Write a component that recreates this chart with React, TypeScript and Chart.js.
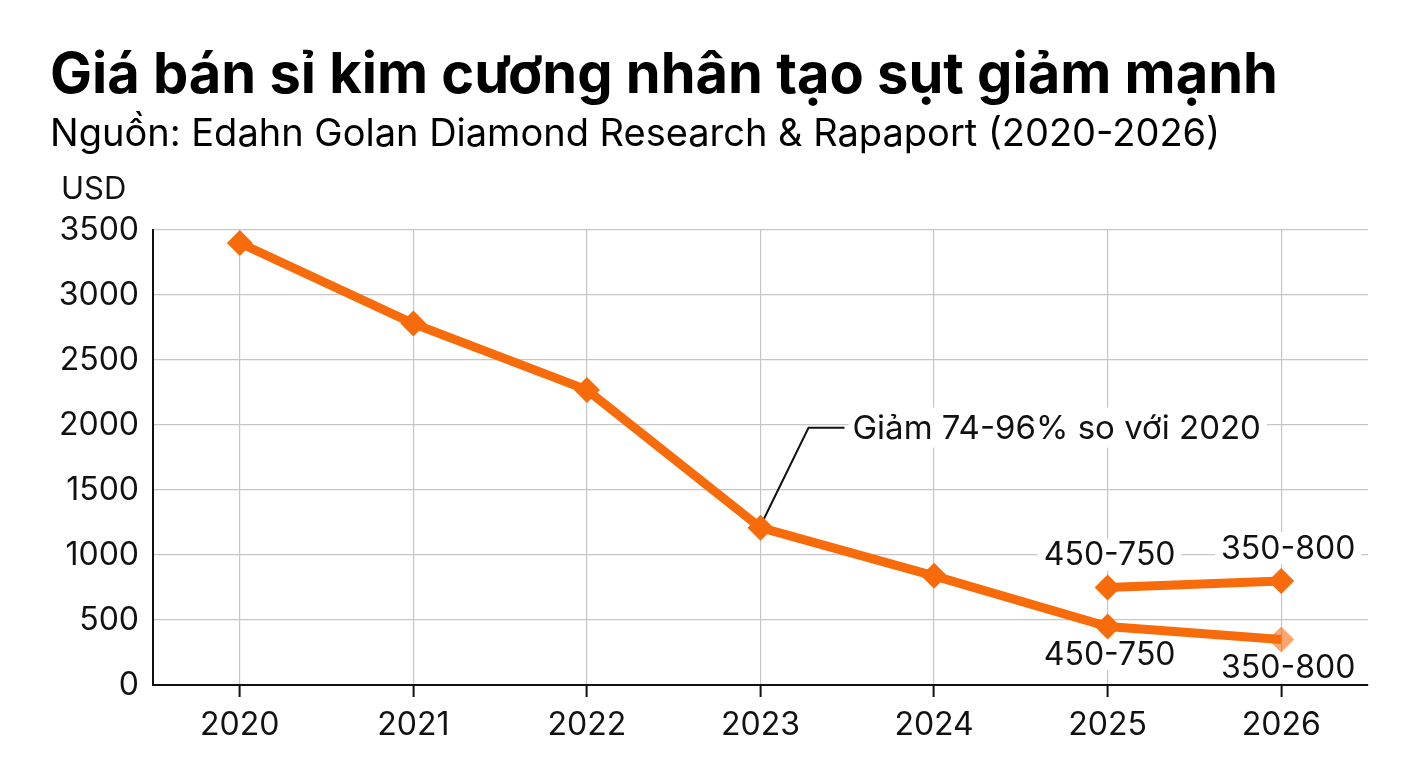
import React, { useEffect, useRef } from 'react';
import { Chart, registerables } from 'chart.js';

Chart.register(...registerables);

// Wholesale price of lab-grown diamonds, USD
const years = ['2020', '2021', '2022', '2023', '2024', '2025', '2026'];
const lowPrices = [3400, 2780, 2270, 1210, 840, 450, 350];
const highPrices = [null, null, null, null, null, 750, 800];
const rangeTexts = [null, null, null, null, null, '450-750', '350-800'];

const TITLE = 'Giá bán sỉ kim cương nhân tạo sụt giảm mạnh';
const SUBTITLE = 'Nguồn: Edahn Golan Diamond Research & Rapaport (2020-2026)';
const UNIT = 'USD';
const NOTE = 'Giảm 74-96% so với 2020';
const NOTE_INDEX = 3;

const Y_MIN = 0;
const Y_MAX = 3500;
const Y_STEP = 500;

const ORANGE = '#f76b0b';
const ORANGE_SOFT = 'rgba(247,107,11,0.6)';
const FONT = 'Inter, "Liberation Sans", Arial, sans-serif';

const decorPlugin = {
  id: 'decor',
  beforeDatasetsDraw(chart: any) {
    const ctx = chart.ctx as CanvasRenderingContext2D;
    const area = chart.chartArea;
    const low = chart.getDatasetMeta(0).data;
    const high = chart.getDatasetMeta(1).data;

    ctx.save();
    // unit label above the value axis
    ctx.fillStyle = '#111';
    ctx.font = `400 31px ${FONT}`;
    ctx.textAlign = 'left';
    ctx.textBaseline = 'middle';
    ctx.fillText(UNIT, 61, area.top - 40);

    // range labels above and below the last two points
    ctx.font = `400 32px ${FONT}`;
    ctx.textAlign = 'center';
    rangeTexts.forEach((txt, i) => {
      if (!txt) return;
      const dx = i === years.length - 1 ? 7 : 2;
      const spots = [
        { x: high[i].x + dx, y: high[i].y - 33 },
        { x: low[i].x + dx, y: low[i].y + 28 },
      ];
      spots.forEach((s) => {
        const w = ctx.measureText(txt).width;
        ctx.fillStyle = '#fff';
        ctx.fillRect(s.x - w / 2 - 6, s.y - 16, w + 12, 32);
        ctx.fillStyle = '#111';
        ctx.fillText(txt, s.x, s.y + 1);
      });
    });

    // leader note pointing at the 2023 point
    const p = low[NOTE_INDEX];
    const elbowX = p.x + 48;
    const elbowY = p.y - 100;
    const textX = elbowX + 44;
    ctx.font = `400 33px ${FONT}`;
    ctx.textAlign = 'left';
    const nw = ctx.measureText(NOTE).width;
    ctx.fillStyle = '#fff';
    ctx.fillRect(textX - 4, elbowY - 20, nw + 10, 40);
    ctx.strokeStyle = '#111';
    ctx.lineWidth = 2;
    ctx.beginPath();
    ctx.moveTo(p.x + 3, p.y - 8);
    ctx.lineTo(elbowX, elbowY);
    ctx.lineTo(textX - 8, elbowY);
    ctx.stroke();
    ctx.fillStyle = '#111';
    ctx.fillText(NOTE, textX, elbowY + 1);

    ctx.restore();
  },
  afterDraw(chart: any) {
    const ctx = chart.ctx as CanvasRenderingContext2D;
    ctx.save();
    ctx.fillStyle = '#000';
    ctx.textAlign = 'left';
    ctx.textBaseline = 'alphabetic';
    ctx.font = `700 56px ${FONT}`;
    ctx.fillText(TITLE, 50, 93);
    ctx.font = `400 38px ${FONT}`;
    ctx.fillText(SUBTITLE, 50, 146);
    ctx.restore();
  },
};

export default function App() {
  const canvasRef = useRef<HTMLCanvasElement | null>(null);

  useEffect(() => {
    document.body.style.margin = '0';
    const canvas = canvasRef.current;
    if (!canvas) return;
    const chart = new Chart(canvas, {
      type: 'line',
      data: {
        labels: years,
        datasets: [
          {
            data: lowPrices,
            borderColor: ORANGE,
            borderWidth: 9,
            pointStyle: 'rectRot',
            pointRadius: 13,
            pointBorderWidth: 0,
            pointBackgroundColor: lowPrices.map((_, i) => (i === years.length - 1 ? ORANGE_SOFT : ORANGE)),
            tension: 0,
          },
          {
            data: highPrices,
            borderColor: ORANGE,
            borderWidth: 9,
            pointStyle: 'rectRot',
            pointRadius: 13,
            pointBorderWidth: 0,
            pointBackgroundColor: ORANGE,
            tension: 0,
          },
        ],
      },
      options: {
        responsive: false,
        animation: false,
        devicePixelRatio: 1,
        layout: { padding: { top: 230, right: 40, bottom: 0, left: 0 } },
        plugins: {
          legend: { display: false },
          tooltip: { enabled: false },
          title: { display: false },
        },
        scales: {
          x: {
            type: 'category',
            offset: true,
            grid: {
              color: '#c6c6c6',
              lineWidth: 1.2,
              drawTicks: true,
              tickLength: 12,
              tickColor: '#111',
              tickWidth: 2,
            },
            border: { color: '#111', width: 2 },
            ticks: {
              color: '#111',
              font: { family: FONT, size: 32 },
              padding: 9,
              maxRotation: 0,
            },
            afterFit(scale: any) {
              scale.height = 83;
            },
          },
          y: {
            min: Y_MIN,
            max: Y_MAX,
            ticks: {
              stepSize: Y_STEP,
              color: '#111',
              font: { family: FONT, size: 32 },
              padding: 14,
              callback: (v: any) => String(v),
            },
            grid: { color: '#c6c6c6', lineWidth: 1.2, drawTicks: false },
            border: { color: '#111', width: 2 },
            afterFit(scale: any) {
              scale.width = 153;
            },
          },
        },
      },
      plugins: [decorPlugin],
    });
    return () => chart.destroy();
  }, []);

  return (
    <div style={{ position: 'fixed', left: 0, top: 0, width: 1408, height: 768, background: '#fff' }}>
      <canvas ref={canvasRef} width={1408} height={768} style={{ display: 'block', width: 1408, height: 768 }} />
    </div>
  );
}
